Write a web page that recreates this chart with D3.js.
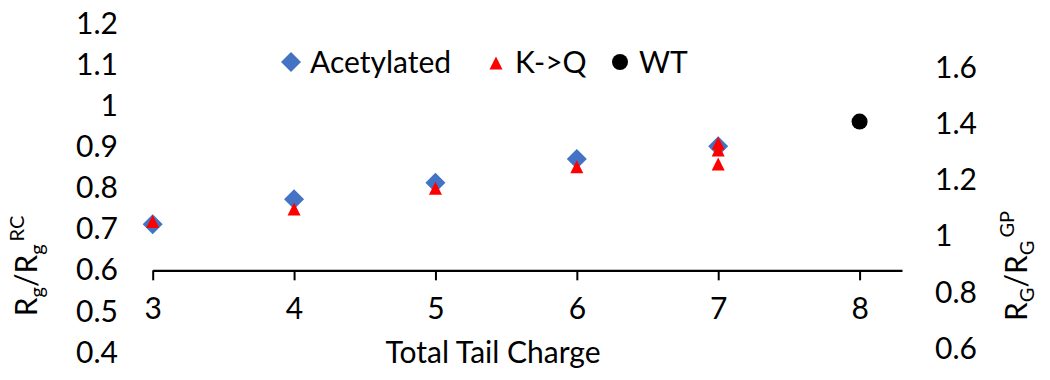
<!DOCTYPE html>
<html>
<head>
<meta charset="utf-8">
<script src="https://d3js.org/d3.v7.min.js"></script>
<style>
  body { margin: 0; background: #fff; }
  text { font-family: Lato, "Open Sans", sans-serif; fill: #000; }
</style>
</head>
<body>
<script>
// ---- data
const charge = [3, 4, 5, 6, 7];
const acetylated = [0.712, 0.773, 0.813, 0.871, 0.902];
const kqCharge = [3, 4, 5, 6, 7, 7, 7];
const kq = [0.719, 0.749, 0.800, 0.852, 0.909, 0.893, 0.859];
const wtCharge = [8];
const wt = [1.409];                    // plotted on the right axis

const xTicks = [3, 4, 5, 6, 7, 8];
const leftTicks = [0.4, 0.5, 0.6, 0.7, 0.8, 0.9, 1, 1.1, 1.2];
const rightTicks = [0.6, 0.8, 1, 1.2, 1.4, 1.6];
const legendNames = ["Acetylated", "K->Q", "WT"];

let width = 1050, height = 380;
let fontSize = 30;

let svg = d3.select("body").append("svg")
    .attr("width", width)
    .attr("height", height);

svg.append("rect").attr("width", width).attr("height", height).attr("fill", "#fff");

// scales
let x = d3.scaleLinear().domain([3, 8.3]).range([152.7, 902]);
let yLeft = d3.scaleLinear().domain([0.4, 1.2]).range([352.5, 23.8]);
let yRight = d3.scaleLinear().domain([0.6, 1.6]).range([348.5, 68]);

// marker shapes like excel's
const squareDiamond = {
    draw(ctx, size) {
        let r = Math.sqrt(size) / 2;
        ctx.moveTo(0, -r); ctx.lineTo(r, 0); ctx.lineTo(0, r); ctx.lineTo(-r, 0); ctx.closePath();
    }
};
const boxTriangle = {
    draw(ctx, size) {
        let s = Math.sqrt(size);
        ctx.moveTo(0, -s / 2); ctx.lineTo(s / 2, s / 2); ctx.lineTo(-s / 2, s / 2); ctx.closePath();
    }
};

// x axis crosses at 0.6
let xAxis = svg.append("g")
    .attr("transform", `translate(0,${yLeft(0.6)})`)
    .call(d3.axisBottom(x).tickValues(xTicks).tickSize(10).tickPadding(17)
        .tickSizeOuter(0).tickFormat(d3.format("d")));
xAxis.select(".domain").attr("stroke", "#000").attr("stroke-width", 2.2);
xAxis.selectAll(".tick line").attr("stroke", "#000").attr("stroke-width", 2);
xAxis.selectAll(".tick text").style("font-size", fontSize + "px").style("font-family", "Lato");

// left axis, labels only
let yAxisL = svg.append("g")
    .attr("transform", `translate(152,0)`)
    .call(d3.axisLeft(yLeft).tickValues(leftTicks).tickSize(0).tickPadding(34).tickFormat(d3.format("")));
yAxisL.select(".domain").remove();
yAxisL.selectAll(".tick text").style("font-size", fontSize + "px").style("font-family", "Lato");

// right axis, labels only
let yAxisR = svg.append("g")
    .attr("transform", `translate(902,0)`)
    .call(d3.axisRight(yRight).tickValues(rightTicks).tickSize(0).tickPadding(33).tickFormat(d3.format("")));
yAxisR.select(".domain").remove();
yAxisR.selectAll(".tick text").style("font-size", fontSize + "px").style("font-family", "Lato");

// points
svg.append("g").selectAll("path")
    .data(charge.map((c, i) => [c, acetylated[i]]))
    .join("path")
        .attr("d", d3.symbol().type(squareDiamond).size(400))
        .attr("transform", d => `translate(${x(d[0])},${yLeft(d[1])})`)
        .attr("fill", "#4472C4");

svg.append("g").selectAll("path")
    .data(kqCharge.map((c, i) => [c, kq[i]]))
    .join("path")
        .attr("d", d3.symbol().type(boxTriangle).size(169))
        .attr("transform", d => `translate(${x(d[0])},${yLeft(d[1])})`)
        .attr("fill", "#FF0000");

svg.append("g").selectAll("circle")
    .data(wtCharge.map((c, i) => [c, wt[i]]))
    .join("circle")
        .attr("cx", d => x(d[0]))
        .attr("cy", d => yRight(d[1]))
        .attr("r", 8)
        .attr("fill", "#000");

// legend
let legendX = [291, 496, 620];
let legendY = 62;
let legend = svg.append("g");
legend.append("path")
    .attr("d", d3.symbol().type(squareDiamond).size(400)())
    .attr("transform", `translate(${legendX[0]},${legendY})`)
    .attr("fill", "#4472C4");
legend.append("path")
    .attr("d", d3.symbol().type(boxTriangle).size(169)())
    .attr("transform", `translate(${legendX[1]},${legendY + 1})`)
    .attr("fill", "#FF0000");
legend.append("circle")
    .attr("cx", legendX[2]).attr("cy", legendY).attr("r", 8).attr("fill", "#000");
legend.selectAll("text")
    .data(legendNames)
    .join("text")
        .attr("x", (d, i) => legendX[i] + 19)
        .attr("y", legendY + 11)
        .style("font-size", fontSize + "px")
        .text(d => d);

// axis titles
svg.append("text")
    .attr("x", 493).attr("y", 363)
    .attr("text-anchor", "middle")
    .style("font-size", fontSize + "px")
    .text("Total Tail Charge");

function ratioTitle(xPos, main, sub, sup) {
    let t = svg.append("text")
        .attr("transform", `translate(${xPos},266) rotate(-90)`)
        .attr("text-anchor", "middle")
        .style("font-size", fontSize + "px");
    t.append("tspan").text(main);
    t.append("tspan").attr("dy", 7).style("font-size", "20px").text(sub);
    t.append("tspan").attr("dy", -7).text("/" + main);
    t.append("tspan").attr("dy", 7).style("font-size", "20px").text(sub);
    t.append("tspan").attr("dy", -20).attr("dx", 3).style("font-size", "20px").text(sup);
}
ratioTitle(37, "R", "g", "RC");
ratioTitle(1027, "R", "G", "GP");
</script>
</body>
</html>
